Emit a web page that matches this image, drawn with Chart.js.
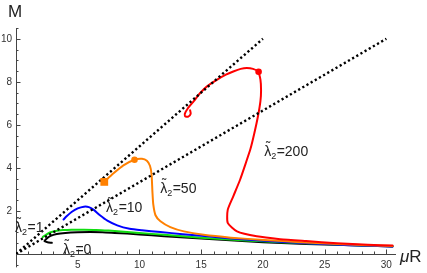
<!DOCTYPE html>
<html>
<head>
<meta charset="utf-8">
<script src="https://cdn.jsdelivr.net/npm/chart.js@4/dist/chart.umd.min.js"></script>
<style>
  html, body { margin: 0; padding: 0; background: #fff; }
  #c { display: block; }
</style>
</head>
<body>
<canvas id="c" width="427" height="273"></canvas>
<script>
// reference lines M = muR/2 and M = muR/3
const guideAX = [0, 20];
const guideAY = [0, 10];
const guideBX = [0, 30];
const guideBY = [0, 10];

// lambda2 = 0
const lam0X = [2.9, 2.55, 2.3, 2.45, 2.8, 3.3, 4.0, 5.0, 6.0, 7.0, 8.0, 9.0, 10.0, 12.0, 14.0, 16.0, 18.0, 20.0, 22.0, 25.0, 28.0, 30.5];
const lam0Y = [0.52, 0.55, 0.6, 0.7, 0.84, 0.93, 0.98, 1.01, 1.02, 1.01, 0.98, 0.95, 0.91, 0.83, 0.75, 0.68, 0.61, 0.55, 0.5, 0.44, 0.39, 0.35];
// lambda2 = 1
const lam1X = [2.15, 2.4, 2.75, 3.2, 3.8, 4.5, 5.5, 6.5, 7.5, 8.5, 10, 12, 14, 16, 18, 20, 22, 25, 28, 30.5];
const lam1Y = [0.78, 0.88, 1.0, 1.07, 1.11, 1.13, 1.13, 1.12, 1.09, 1.05, 0.98, 0.89, 0.8, 0.72, 0.65, 0.59, 0.53, 0.46, 0.4, 0.36];
// lambda2 = 10
const lam10X = [3.85, 4.1, 4.5, 5.0, 5.5, 5.9, 6.3, 6.8, 7.4, 8.2, 9.2, 10.2, 11.7, 13.5, 15.5, 18, 21, 24, 27, 30.5];
const lam10Y = [1.6, 1.75, 1.95, 2.12, 2.2, 2.18, 2.05, 1.8, 1.55, 1.33, 1.17, 1.1, 1.02, 0.92, 0.82, 0.7, 0.58, 0.49, 0.41, 0.35];
// lambda2 = 50
const lam50X = [7.15, 7.9, 8.7, 9.6, 10.2, 10.6, 10.85, 10.98, 11.05, 11.12, 11.3, 11.7, 12.5, 13.6, 15.2, 17.4, 20.1, 23, 26.5, 30.5];
const lam50Y = [3.35, 3.75, 4.12, 4.38, 4.42, 4.33, 4.1, 3.7, 2.9, 2.3, 1.8, 1.52, 1.25, 1.05, 0.89, 0.76, 0.65, 0.55, 0.45, 0.37];
// lambda2 = 200
const lam200X = [14.1, 14.15, 13.95, 13.7, 13.68, 13.9, 14.4, 14.9, 15.5, 16.3, 17.0, 17.6, 18.2, 18.7, 19.2, 19.6, 19.8, 19.85, 19.8, 19.6, 19.3, 19.0, 18.6, 18.15, 17.6, 17.15, 17.15, 17.9, 19.5, 21.4, 23.5, 26, 28.5, 30.5];
const lam200Y = [6.68, 6.52, 6.38, 6.4, 6.52, 6.75, 7.1, 7.47, 7.8, 8.1, 8.33, 8.48, 8.6, 8.64, 8.6, 8.48, 8.1, 7.6, 7.1, 6.4, 5.6, 4.9, 4.2, 3.45, 2.68, 2.05, 1.45, 1.05, 0.82, 0.69, 0.6, 0.5, 0.43, 0.39];

// markers
const orangeSquare = [7.15, 3.35];
const orangeDot = [9.6, 4.38];
const redDot = [19.65, 8.47];

const xTicks = [5, 10, 15, 20, 25, 30];
const yTicks = [2, 4, 6, 8, 10];

function pts(xs, ys) {
  return xs.map((x, i) => ({ x: x, y: ys[i] }));
}

function curve(xs, ys, color) {
  return {
    data: pts(xs, ys),
    showLine: true,
    borderColor: color,
    borderWidth: 2,
    pointRadius: 0,
    tension: 0.2,
    borderJoinStyle: 'round',
    borderCapStyle: 'round'
  };
}

function guide(xs, ys) {
  return {
    data: pts(xs, ys),
    showLine: true,
    borderColor: '#000',
    borderWidth: 2.4,
    borderDash: [2.2, 2.6],
    borderCapStyle: 'butt',
    pointRadius: 0
  };
}

function marker(p, color, style, r) {
  return {
    data: [{ x: p[0], y: p[1] }],
    pointStyle: style,
    pointRadius: r,
    backgroundColor: color,
    borderColor: color,
    borderWidth: 0
  };
}

// curve labels: lambda tilde with subscript 2
const labels = [
  { text: '=1', x: -0.08, y: 1.02 },
  { text: '=0', x: 3.8, y: 0.0 },
  { text: '=10', x: 7.3, y: 1.95 },
  { text: '=50', x: 11.68, y: 2.84 },
  { text: '=200', x: 20.1, y: 4.56 }
];

const deco = {
  id: 'deco',
  beforeDatasetsDraw(chart) {
    const ctx = chart.ctx;
    const xs = chart.scales.x, ys = chart.scales.y;
    const x0 = xs.getPixelForValue(0), y0 = ys.getPixelForValue(0);
    ctx.save();
    ctx.strokeStyle = '#444';
    ctx.lineWidth = 1;
    ctx.beginPath();
    // y axis runs a bit below zero
    ctx.moveTo(x0 + 0.5, y0);
    ctx.lineTo(x0 + 0.5, ys.getPixelForValue(-0.62));
    for (let v = 1; v <= 30; v++) {
      const px = Math.round(xs.getPixelForValue(v)) + 0.5;
      const len = v % 5 === 0 ? 4.5 : 2.5;
      ctx.moveTo(px, y0);
      ctx.lineTo(px, y0 - len);
    }
    for (let k = -1; k <= 21; k++) {
      if (k === 0) continue;
      const v = k / 2;
      const py = Math.round(ys.getPixelForValue(v)) + 0.5;
      const len = k % 4 === 0 ? 4.5 : 2.5;
      ctx.moveTo(x0, py);
      ctx.lineTo(x0 + len, py);
    }
    ctx.stroke();
    ctx.restore();
  },
  afterDatasetsDraw(chart) {
    const ctx = chart.ctx;
    const xs = chart.scales.x, ys = chart.scales.y;
    ctx.save();
    ctx.fillStyle = '#222';
    ctx.textBaseline = 'alphabetic';
    ctx.textAlign = 'left';
    labels.forEach(l => {
      let px = xs.getPixelForValue(l.x);
      const py = ys.getPixelForValue(l.y);
      ctx.font = '14px "Liberation Sans"';
      ctx.fillText('\u03bb', px, py);
      const lw = ctx.measureText('\u03bb').width;
      ctx.font = '13px "Liberation Sans"';
      ctx.textAlign = 'center';
      ctx.fillText('\u02dc', px + lw / 2 + 0.5, py - 5);
      ctx.textAlign = 'left';
      px += lw;
      ctx.font = '9px "Liberation Sans"';
      ctx.fillText('2', px, py + 3);
      px += ctx.measureText('2').width + 0.5;
      ctx.font = '14px "Liberation Sans"';
      ctx.fillText(l.text, px, py);
    });
    // axis titles
    ctx.font = '17px "Liberation Sans"';
    ctx.fillText('M', 8, 17);
    ctx.font = 'italic 17px "Liberation Sans"';
    ctx.fillText('\u03bc', 400, 262);
    const mw = ctx.measureText('\u03bc').width;
    ctx.font = '17px "Liberation Sans"';
    ctx.fillText('R', 400 + mw, 262);
    ctx.restore();
  }
};

// first dataset is drawn on top, so red comes first and black last
new Chart(document.getElementById('c'), {
  type: 'scatter',
  data: {
    datasets: [
      marker(redDot, '#ff0000', 'circle', 3.3),
      marker(orangeDot, '#ff8000', 'circle', 3.3),
      marker(orangeSquare, '#ff8000', 'rect', 5.5),
      guide(guideAX, guideAY),
      guide(guideBX, guideBY),
      curve(lam200X, lam200Y, '#ff0000'),
      curve(lam50X, lam50Y, '#ff8000'),
      curve(lam10X, lam10Y, '#0000ff'),
      curve(lam1X, lam1Y, '#11dd11'),
      curve(lam0X, lam0Y, '#000000')
    ]
  },
  options: {
    responsive: false,
    animation: false,
    layout: { padding: { top: 28, right: 32, left: 0, bottom: 0 } },
    plugins: { legend: { display: false }, tooltip: { enabled: false } },
    scales: {
      x: {
        type: 'linear',
        min: 0,
        max: 30.7,
        grid: { display: false, drawTicks: false },
        border: { display: true, color: '#444', width: 1 },
        afterFit: s => { s.height = 19; },
        afterBuildTicks: s => { s.ticks = xTicks.map(v => ({ value: v })); },
        ticks: {
          padding: 5,
          autoSkip: false,
          maxRotation: 0,
          color: '#333',
          font: { family: 'Liberation Sans', size: 10 }
        }
      },
      y: {
        type: 'linear',
        min: 0,
        max: 10.5,
        grid: { display: false, drawTicks: false },
        border: { display: true, color: '#444', width: 1 },
        afterFit: s => { s.width = 16; },
        afterBuildTicks: s => { s.ticks = yTicks.map(v => ({ value: v })); },
        ticks: {
          padding: 4,
          autoSkip: false,
          color: '#333',
          font: { family: 'Liberation Sans', size: 10 }
        }
      }
    }
  },
  plugins: [deco]
});
</script>
</body>
</html>
